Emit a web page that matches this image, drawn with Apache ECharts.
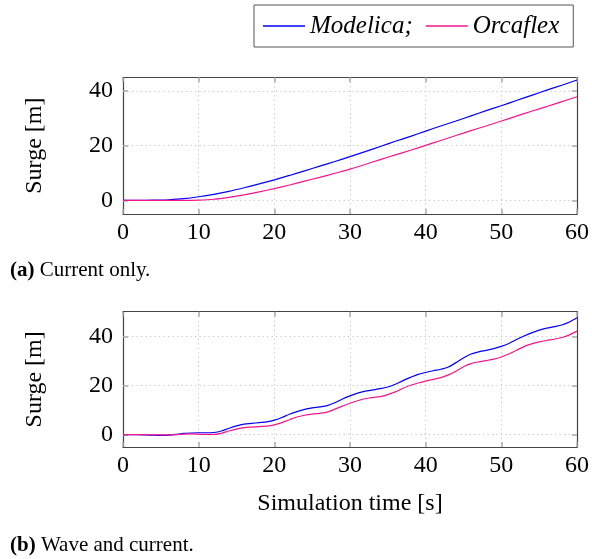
<!DOCTYPE html>
<html>
<head>
<meta charset="utf-8">
<script src="https://cdn.jsdelivr.net/npm/echarts@6/dist/echarts.min.js"></script>
<style>
  html, body { margin: 0; padding: 0; background: #fff; }
  #chart { width: 592px; height: 559px; }
</style>
</head>
<body>
<div id="chart"></div>
<script>
// Surge response: current only (top) and wave + current (bottom)
const timeCurrent = [0, 2, 4, 5, 6, 8, 10, 12, 14, 16, 18, 20, 22, 24, 26, 28, 30, 32, 34, 36, 38, 40, 42, 44, 46, 48, 50, 52, 54, 56, 58, 60];
const modelicaCurrent = [0, 0, 0.05, 0.1, 0.2, 0.6, 1.3, 2.2, 3.3, 4.6, 6.0, 7.5, 9.1, 10.8, 12.5, 14.2, 16.0, 17.8, 19.7, 21.6, 23.4, 25.3, 27.2, 29.0, 30.9, 32.8, 34.6, 36.5, 38.4, 40.3, 42.1, 44.0];
const orcaflexCurrent = [0, 0, 0, 0, 0, 0, 0.1, 0.4, 1.1, 2.0, 3.1, 4.3, 5.6, 7.0, 8.4, 9.9, 11.4, 13.1, 14.9, 16.6, 18.3, 20.1, 21.9, 23.7, 25.5, 27.2, 29.0, 30.8, 32.6, 34.3, 36.1, 37.9];

const timeWave = [0, 1, 2, 3, 4, 5, 6, 7, 8, 9, 10, 11, 12, 13, 14, 15, 16, 17, 18, 19, 20, 21, 22, 23, 24, 25, 26, 27, 28, 29, 30, 31, 32, 33, 34, 35, 36, 37, 38, 39, 40, 41, 42, 43, 44, 45, 46, 47, 48, 49, 50, 51, 52, 53, 54, 55, 56, 57, 58, 59, 60];
const modelicaWave = [0, 0, 0, -0.1, -0.2, -0.3, -0.2, 0.1, 0.5, 0.7, 0.8, 0.8, 0.9, 1.5, 2.6, 3.6, 4.3, 4.6, 4.9, 5.2, 5.9, 7.0, 8.3, 9.4, 10.3, 10.9, 11.3, 11.8, 13.0, 14.5, 15.8, 16.9, 17.7, 18.2, 18.7, 19.4, 20.5, 22.0, 23.3, 24.5, 25.3, 26.0, 26.6, 27.5, 29.3, 31.2, 32.8, 33.7, 34.3, 35.0, 35.9, 37.1, 38.7, 40.1, 41.4, 42.5, 43.3, 43.9, 44.6, 45.8, 47.5];
const orcaflexWave = [0, 0, 0, 0, -0.1, -0.1, -0.1, 0, 0.2, 0.3, 0.2, 0.1, 0.1, 0.6, 1.5, 2.3, 2.9, 3.1, 3.3, 3.5, 4.0, 4.9, 6.1, 7.2, 7.9, 8.4, 8.7, 9.2, 10.4, 11.6, 12.8, 13.8, 14.6, 15.1, 15.5, 16.3, 17.4, 18.9, 20.1, 21.0, 21.8, 22.5, 23.2, 24.3, 25.8, 27.6, 28.9, 29.6, 30.1, 30.7, 31.6, 32.8, 34.3, 35.8, 36.9, 37.7, 38.3, 38.8, 39.5, 40.6, 42.1];

const xTicks = [0, 10, 20, 30, 40, 50, 60];
const yTicks = [0, 20, 40];
const yRanges = [[-5, 45], [-5, 50]];

const FONT = '"Liberation Serif", "Times New Roman", serif';
const BLUE = '#0000ff';
const PINK = '#f2168a';

const frame = { show: true, onZero: false, lineStyle: { color: '#444', width: 1.2 } };
const tick = { show: true, inside: true, length: 5, lineStyle: { color: '#aaa', width: 1.5 } };
const grid = { show: true, lineStyle: { color: '#c4c4c4', width: 1, type: [1.2, 3.3] } };
const labelFont = { fontFamily: FONT, fontSize: 24, color: '#000' };

function pairs(xs, ys) { return xs.map((x, i) => [x, ys[i]]); }

const grids = [
  { left: 123, right: 13.3, top: 77.3, height: 136.7 },
  { left: 123, right: 13.3, top: 311.7, height: 135.3 }
];

const xAxes = [];
const yAxes = [];
grids.forEach((g, i) => {
  xAxes.push({
    gridIndex: i, type: 'value', position: 'bottom', min: 0, max: 60, interval: 10,
    axisLine: frame, axisTick: tick, splitLine: grid,
    axisLabel: Object.assign({ margin: 7 }, labelFont),
    name: i === 1 ? 'Simulation time [s]' : '',
    nameLocation: 'middle', nameGap: 45,
    nameTextStyle: { fontFamily: FONT, fontSize: 24, color: '#000' }
  });
  xAxes.push({
    gridIndex: i, type: 'value', position: 'top', min: 0, max: 60, interval: 10,
    axisLine: frame, axisTick: tick, splitLine: { show: false }, axisLabel: { show: false }
  });
  yAxes.push({
    gridIndex: i, type: 'value', position: 'left', min: yRanges[i][0], max: yRanges[i][1],
    axisLine: frame,
    axisTick: Object.assign({ customValues: yTicks }, tick),
    axisLabel: Object.assign({ customValues: yTicks, margin: 10 }, labelFont),
    splitLine: grid,
    name: 'Surge [m]', nameLocation: 'middle', nameRotate: 90, nameGap: 76,
    nameTextStyle: { fontFamily: FONT, fontSize: 24, color: '#000' }
  });
  yAxes.push({
    gridIndex: i, type: 'value', position: 'right', min: yRanges[i][0], max: yRanges[i][1],
    axisLine: frame,
    axisTick: Object.assign({ customValues: yTicks }, tick),
    axisLabel: { show: false, customValues: yTicks },
    splitLine: { show: false }
  });
});

function line(name, color, data, gi) {
  return {
    name, type: 'line', data, xAxisIndex: gi * 2, yAxisIndex: gi * 2,
    symbol: 'none', smooth: 0.3, animation: false,
    lineStyle: { color, width: 1.2 }, itemStyle: { color }
  };
}

const option = {
  backgroundColor: '#fff',
  animation: false,
  legend: {
    left: 254, top: 5,
    padding: [8, 14, 8, 9],
    borderColor: '#555', borderWidth: 1,
    icon: 'rect',
    itemWidth: 42, itemHeight: 1.3, itemGap: 13,
    data: ['Modelica', 'Orcaflex'],
    formatter: n => n === 'Modelica' ? 'Modelica;' : n,
    textStyle: { fontFamily: FONT, fontStyle: 'italic', fontSize: 25, color: '#000', lineHeight: 26 }
  },
  grid: grids,
  xAxis: xAxes,
  yAxis: yAxes,
  series: [
    line('Modelica', BLUE, pairs(timeCurrent, modelicaCurrent), 0),
    line('Orcaflex', PINK, pairs(timeCurrent, orcaflexCurrent), 0),
    line('Modelica', BLUE, pairs(timeWave, modelicaWave), 1),
    line('Orcaflex', PINK, pairs(timeWave, orcaflexWave), 1)
  ],
  graphic: [
    {
      type: 'text', left: 10, top: 260,
      style: {
        text: '{b|(a)} Current only.',
        font: '21px ' + FONT, fill: '#000',
        rich: { b: { fontWeight: 'bold', fontFamily: FONT, fontSize: 21 } }
      }
    },
    {
      type: 'text', left: 10, top: 535,
      style: {
        text: '{b|(b)} Wave and current.',
        font: '21px ' + FONT, fill: '#000',
        rich: { b: { fontWeight: 'bold', fontFamily: FONT, fontSize: 21 } }
      }
    }
  ]
};

const chart = echarts.init(document.getElementById('chart'), null, { renderer: 'canvas' });
chart.setOption(option);
</script>
</body>
</html>
